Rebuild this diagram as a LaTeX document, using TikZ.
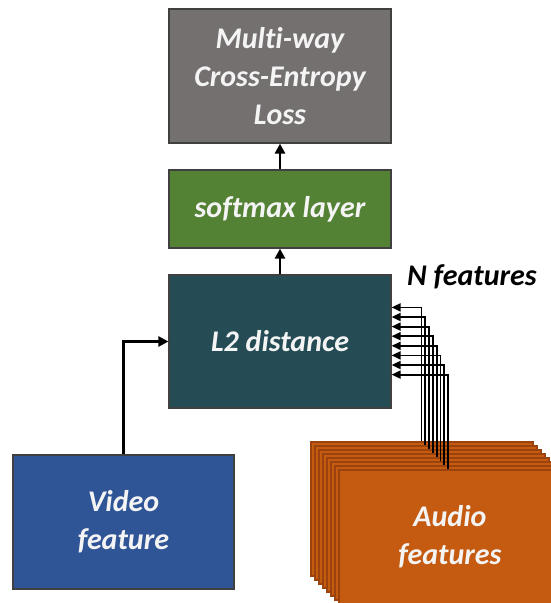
\documentclass[tikz,border=0pt]{standalone}
\usepackage{fontspec}
\setmainfont{Carlito}[Ligatures=NoCommon]
\usetikzlibrary{arrows.meta}
\definecolor{lossgray}{HTML}{757070}
\definecolor{smgreen}{HTML}{548235}
\definecolor{ltwoteal}{HTML}{254B55}
\definecolor{vidblue}{HTML}{2F5597}
\definecolor{audorange}{HTML}{C55A11}
\definecolor{audedge}{HTML}{9A430D}
\definecolor{txtwhite}{HTML}{F4F4F4}
\begin{document}
\begin{tikzpicture}[x=1pt,y=-1pt,
  box/.style={draw=black!75, line width=1.2pt, inner sep=0pt, minimum width=222pt,
    text=txtwhite, font=\fontsize{30}{38}\selectfont\bfseries\itshape, align=center},
  audbox/.style={box, draw=audedge, fill=audorange, minimum height=134pt},
  arr/.style={-{Triangle[length=10pt,width=10pt]}, line width=2.6pt, black},
  farr/.style={-{Triangle[length=9pt,width=8pt]}, line width=1.8pt, black}]
\useasboundingbox (0,0) rectangle (550,603);
\node[box, fill=lossgray, minimum height=134pt] (loss) at (280,76) {Multi-way\\Cross-Entropy\\Loss};
\node[box, fill=smgreen, minimum height=78pt] (softmax) at (280,209) {softmax layer};
\node[box, fill=ltwoteal, minimum height=133pt] (ltwo) at (280,341.5) {L2 distance};
\node[box, fill=vidblue, minimum width=221pt, minimum height=134pt] (video) at (123.5,522) {Video\\feature};
\foreach \i in {0,...,6} {
  \node[audbox] (a\i) at ({422+4*\i},{509+4*\i}) {};
}
\node[audbox] (a7) at (450,537) {Audio\\features};
\node[font=\fontsize{30}{34}\selectfont\bfseries\itshape, text=black, inner sep=0pt] (nf) at (472,277) {N features};
\draw[arr] (ltwo.north) -- (softmax.south);
\draw[arr] (softmax.north) -- (loss.south);
\draw[arr] (video.north) |- (ltwo.west);
\foreach \i in {0,...,7} {
  \draw[farr] ([xshift={(111-0.2*\i)*1pt}]a\i.north west) |- ([yshift={-(33+9.6*\i)*1pt}]ltwo.north east);
}
\end{tikzpicture}
\end{document}
